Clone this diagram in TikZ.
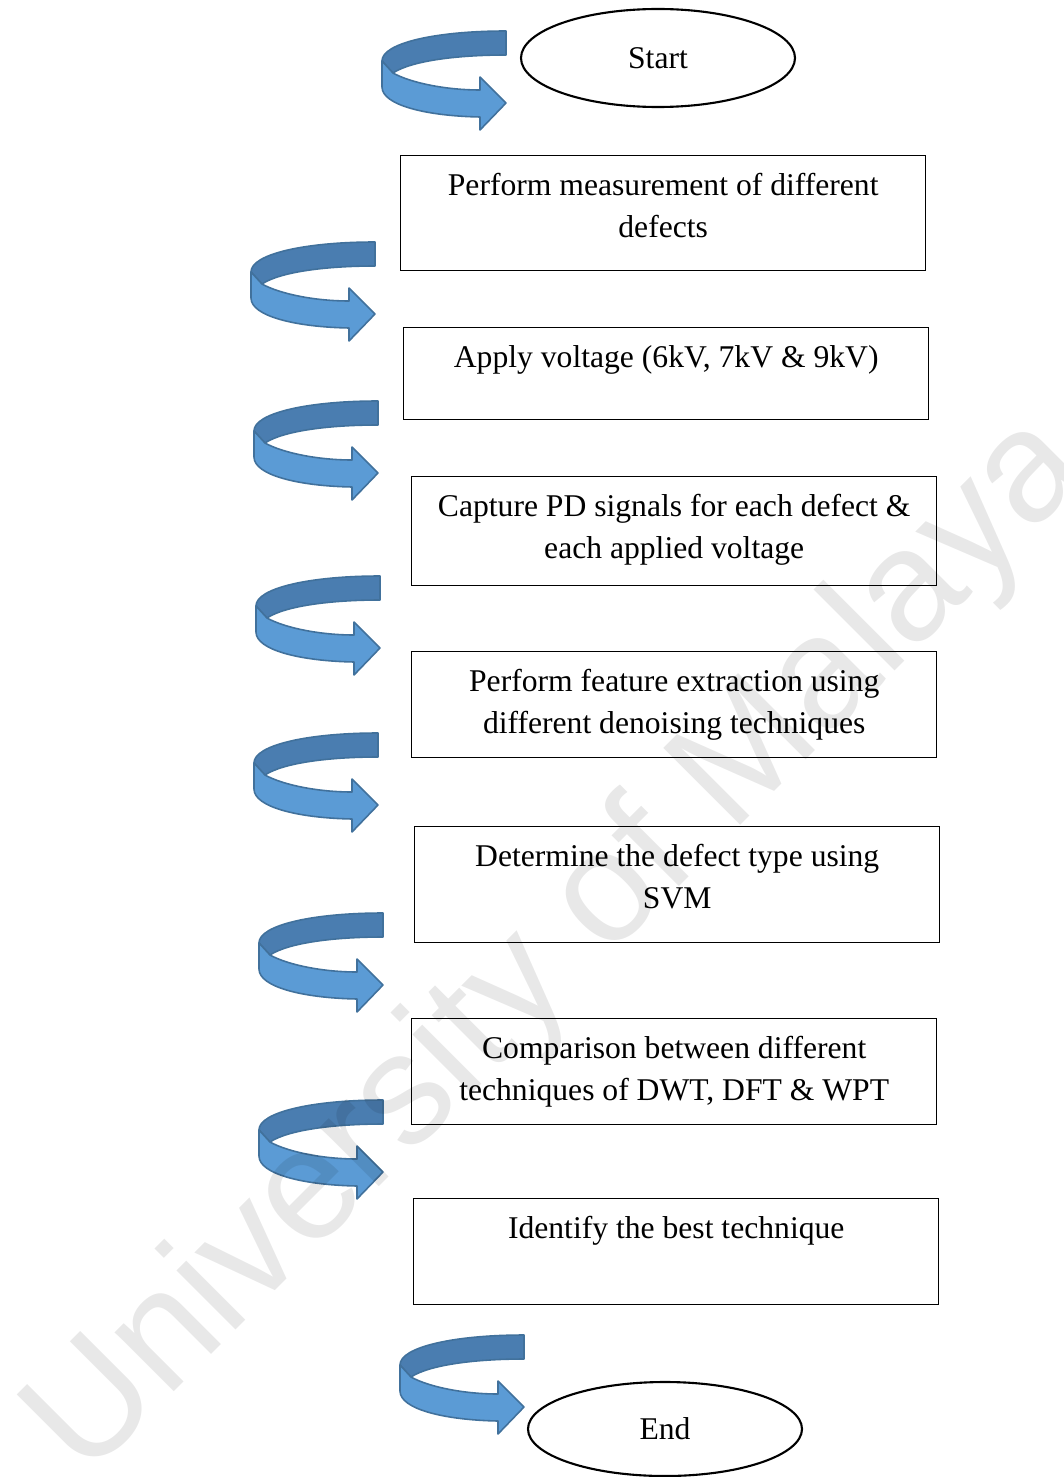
\documentclass[tikz,border=0pt]{standalone}
\usepackage{fontspec}
\setmainfont{Liberation Serif}
\newfontfamily\wmfont{Liberation Sans}
\usetikzlibrary{shapes.geometric}
\definecolor{arrowlight}{HTML}{5B9BD5}
\definecolor{arrowdark}{HTML}{4A7DB0}
\definecolor{arrowline}{HTML}{41719C}

% U-turn block arrow, origin at its top right corner
\tikzset{
  turnarrow/.pic={
    \filldraw[fill=arrowdark, draw=arrowline, line width=0.9pt, line join=round]
      (0,0) .. controls (-70,0) and (-124,12) .. (-124,30) -- (-113,42)
      .. controls (-95,30) and (-50,24) .. (0,24) -- cycle;
    \filldraw[fill=arrowlight, draw=arrowline, line width=0.9pt, line join=round]
      (-124,30) -- (-113,42) .. controls (-95,52) and (-60,59) .. (-26,59)
      -- (-26,46) -- (0,72) -- (-26,99) -- (-26,86)
      .. controls (-80,85) and (-124,74) .. (-124,56) -- cycle;
  }
}

\begin{document}
\begin{tikzpicture}[
    x=0.2mm, y=-0.2mm,
    terminal/.style={ellipse, draw, line width=1.2pt, minimum width=54.8mm, minimum height=19.6mm, font=\fontsize{18}{24}\selectfont},
    stepbox/.style={rectangle, draw, line width=0.8pt, minimum width=105mm, anchor=north west},
    steptext/.style={anchor=north, inner sep=0pt, align=center, font=\fontsize{18}{24}\selectfont},
]
    \useasboundingbox (0,0) rectangle (1063,1477);

    % Terminals
    \node[terminal] (start) at (658,58) {Start};
    \node[terminal, minimum height=18.8mm] (end) at (665,1429) {End};

    % Process boxes
    \node[stepbox, minimum height=23mm] (measure) at (400,155) {};
    \node[steptext] (measuretext) at ([yshift=-3.6mm]measure.north) {Perform measurement of different\\defects};
    \node[stepbox, minimum height=18.4mm] (voltage) at (403,327) {};
    \node[steptext] (voltagetext) at ([yshift=-3.6mm]voltage.north) {Apply voltage (6kV, 7kV \& 9kV)};
    \node[stepbox, minimum height=21.8mm] (capture) at (411,476) {};
    \node[steptext] (capturetext) at ([yshift=-3.6mm]capture.north) {Capture PD signals for each defect \&\\each applied voltage};
    \node[stepbox, minimum height=21.2mm] (feature) at (411,651) {};
    \node[steptext] (featuretext) at ([yshift=-3.6mm]feature.north) {Perform feature extraction using\\different denoising techniques};
    \node[stepbox, minimum height=23.2mm] (defect) at (414,826) {};
    \node[steptext] (defecttext) at ([yshift=-3.6mm]defect.north) {Determine the defect type using\\SVM};
    \node[stepbox, minimum height=21.2mm] (compare) at (411,1018) {};
    \node[steptext] (comparetext) at ([yshift=-3.6mm]compare.north) {Comparison between different\\techniques of DWT, DFT \& WPT};
    \node[stepbox, minimum height=21.2mm] (best) at (413,1198) {};
    \node[steptext] (besttext) at ([yshift=-3.6mm]best.north) {Identify the best technique};

    % Turn arrows
    \foreach \ax/\ay in {506/31, 375/242, 378/401, 380/576, 378/733, 383/913, 383/1100, 524/1335}
        \pic at (\ax,\ay) {turnarrow};

    % Watermark
    \node[font=\wmfont\fontsize{90}{90}\selectfont, text=black, text opacity=0.09, rotate=45] (watermark) at (560,948) {University of Malaya};
\end{tikzpicture}
\end{document}
